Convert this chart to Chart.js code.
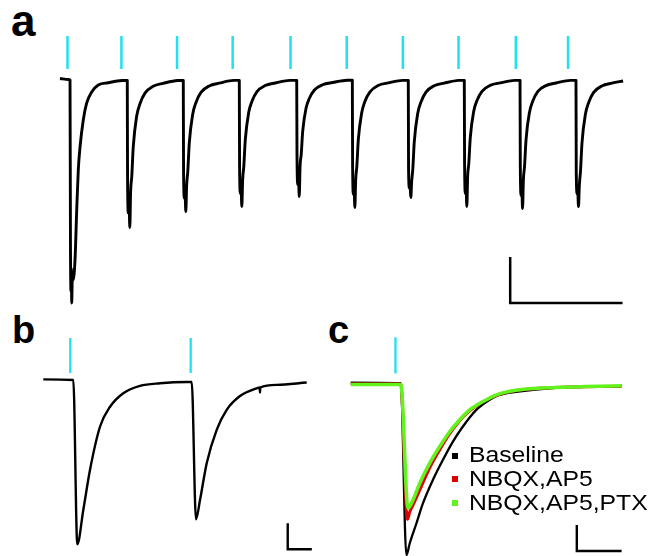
<!DOCTYPE html>
<html><head><meta charset="utf-8">
<script src="https://cdn.jsdelivr.net/npm/chart.js@4.4.1/dist/chart.umd.min.js"></script>
<style>
html,body{margin:0;padding:0;background:#fff;}
body{width:655px;height:556px;position:relative;overflow:hidden;font-family:"Liberation Sans",Arial,sans-serif;}
canvas{position:absolute;}
.lbl{position:absolute;font-weight:bold;line-height:1;color:#000;white-space:nowrap;}
.sq{position:absolute;width:6px;height:6px;}
.leg{position:absolute;left:469px;top:444px;font-size:21.5px;line-height:23.8px;transform:scaleX(1.15);transform-origin:0 0;white-space:nowrap;color:#000;}
</style></head><body>
<div class="lbl" style="left:11px;top:-1px;font-size:44px">a</div>
<div class="lbl" style="left:12px;top:311px;font-size:38px">b</div>
<div class="lbl" style="left:328px;top:311px;font-size:38px">c</div>
<canvas id="ca" width="570" height="280" style="left:58px;top:30px"></canvas>
<canvas id="cb" width="280" height="226" style="left:40px;top:330px"></canvas>
<canvas id="cc" width="285" height="226" style="left:345px;top:330px"></canvas>
<div class="sq" style="left:452px;top:453px;background:#000"></div>
<div class="sq" style="left:452px;top:476px;background:#dd0000"></div>
<div class="sq" style="left:452px;top:500px;background:#62f21c"></div>
<div class="leg">Baseline<br>NBQX,AP5<br>NBQX,AP5,PTX</div>
<script>
// ---------- Panel a: 10 Hz train (time in ms, current in pA) ----------
const aStim = [0, 96, 195, 294, 397, 497, 597, 696, 798, 891];
const aTime = [
 -13.4, 1.8, 4.5, 5.3, 6.3, 6.9, 7.5, 8.6, 9.8, 13.4, 16.4, 19.2, 22.3, 28.1, 34.2, 43.1, 54.8, 72.6, 97,
 106.4, 106.9, 108.4, 109.4, 110.9, 112.4, 114.4, 117.1, 123.1, 129.0, 137.9, 152.4, 170.4, 196.4,
 206.1, 206.6, 208.1, 209.1, 210.6, 212.1, 214.1, 216.8, 222.8, 228.7, 237.6, 252.1, 270.1, 296.1,
 305.8, 306.3, 307.8, 308.8, 310.3, 311.8, 313.8, 316.5, 322.5, 328.4, 337.3, 351.8, 369.8, 395.8,
 408, 408.5, 410, 411, 412.5, 414, 416, 418.7, 424.7, 430.6, 439.5, 454, 472, 498,
 507, 507.5, 509, 510, 511.5, 513, 515, 517.7, 523.7, 529.6, 538.5, 553, 571, 597,
 606.6, 607.1, 608.6, 609.6, 611.1, 612.6, 614.6, 617.3, 623.3, 629.2, 638.1, 652.6, 670.6, 696.6,
 706.3, 706.8, 708.3, 709.3, 710.8, 712.3, 714.3, 717, 723, 728.9, 737.8, 752.3, 770.3, 796.3,
 805.5, 806, 807.5, 808.5, 810, 811.5, 813.5, 816.2, 822.2, 828.1, 837, 851.5, 869.5, 895.5,
 905.1, 905.6, 907.1, 908.1, 909.6, 911.1, 913.1, 915.8, 921.8, 927.7, 936.6, 951.1, 969.1, 989
];
const aCurrent = [
 11, 0, -5, -1810, -2300, -2050, -2430, -2150, -2180, -1960, -1420, -985, -735, -440, -255, -135, -60, -35, -11,
 -10, -1054, -1450, -1265, -1609, -1212, -1054, -727, -400, -264, -148, -74, -42, -11,
 -10, -1000, -1290, -1200, -1435, -1150, -1000, -690, -380, -250, -140, -70, -40, -10,
 -10, -946, -1240, -1135, -1380, -1088, -946, -653, -359, -237, -132, -66, -38, -9,
 -9, -815, -1145, -980, -1272, -940, -815, -562, -310, -204, -114, -57, -33, -8,
 -8, -946, -1250, -1135, -1391, -1090, -946, -650, -362, -235, -134, -65, -37, -10,
 -10, -978, -1180, -1150, -1283, -1110, -978, -675, -372, -245, -137, -68, -39, -10,
 -9, -913, -1240, -1100, -1380, -1050, -913, -630, -347, -228, -128, -64, -37, -9,
 -9, -946, -1260, -1135, -1402, -1090, -946, -655, -360, -236, -131, -67, -38, -9,
 -9, -1000, -1240, -1200, -1380, -1150, -1000, -690, -380, -250, -140, -70, -40, -16
];
const aScaleBar = {ms: 200, pA: 500};

// ---------- Panel b: paired pulse (ms, pA) ----------
const bStim = [0, 50];
const bTime = [-11.2, 1.25, 2.91, 5.40, 8.18, 12.33, 16.51, 22.01, 28.95, 37.25, 48.34, 50.42,
 52.20, 53.87, 56.65, 60.80, 64.95, 70.48, 77.41, 78.66, 78.78, 78.9, 85.72, 98.18];
const bCurrent = [2, 0, -632, -500, -346, -180, -103, -51, -23, -13, -8, -8,
 -536, -462, -320, -192, -115, -62, -32, -29, -48, -29, -19, -10];
const bScaleBar = {ms: 10, pA: 100};

// ---------- Panel c: pharmacology (ms, pA) ----------
const cStim = [0];
const cBaselineTime = [-10, 1.18, 2.44, 3.18, 4.67, 6.13, 8.35, 10.58, 12.8, 15.02, 18.0, 20.95, 23.18, 26.89, 35.77, 50.57];
const cBaselineCur  = [4, 2, -660, -615, -538, -461, -371, -294, -224, -166, -102, -63, -44, -32, -16, -10];
const cNbqxTime = [-10, 1.18, 2.67, 3.18, 3.91, 5.4, 7.62, 9.84, 12.07, 14.29, 16.51, 19.47, 22.44, 26.89, 35.77, 50.57];
const cNbqxCur  = [-2, -2, -522, -494, -467, -410, -325, -256, -194, -144, -106, -71, -46, -27, -15, -10];
const cPtxTime = [-10, 1.18, 2.8, 3.91, 5.4, 7.62, 9.84, 12.07, 14.29, 16.51, 19.47, 22.44, 26.89, 35.77, 50.57];
const cPtxCur  = [-4, -4, -480, -448, -384, -307, -243, -186, -140, -102, -70, -44, -26, -15, -8];
const cScaleBar = {ms: 10, pA: 100};

// ---------- helpers ----------
const CYAN = '#1fe1f0', RED = '#dd0000', GREEN = '#62f21c';
const pts = (xs, ys) => xs.map((x, i) => ({x, y: ys[i]}));
function ticks(times, y0, y1) {
  const out = [];
  times.forEach(t => { out.push({x: t, y: y0}, {x: t, y: y1}, {x: t, y: null}); });
  return out;
}
function bar(x0, yTop, sb) {
  return [{x: x0, y: yTop}, {x: x0, y: yTop - sb.pA}, {x: x0 + sb.ms, y: yTop - sb.pA}];
}
function trace(data, color, width, order) {
  return {data, borderColor: color, borderWidth: width, pointRadius: 0, fill: false,
          cubicInterpolationMode: 'monotone', order, borderJoinStyle: 'round'};
}
function straight(data, color, width, order) {
  return {data, borderColor: color, borderWidth: width, pointRadius: 0, fill: false,
          tension: 0, spanGaps: false, order, borderCapStyle: 'butt', borderJoinStyle: 'miter'};
}
function makeChart(id, datasets, xr, yr) {
  return new Chart(document.getElementById(id), {
    type: 'line',
    data: {datasets},
    options: {
      responsive: false, animation: false, events: [],
      layout: {padding: 0},
      plugins: {legend: {display: false}, tooltip: {enabled: false}},
      scales: {
        x: {type: 'linear', display: false, min: xr[0], max: xr[1]},
        y: {type: 'linear', display: false, min: yr[0], max: yr[1]}
      }
    }
  });
}

makeChart('ca', [
  straight(ticks(aStim, 114, 473), CYAN, 2.5, 0),
  trace(pts(aTime, aCurrent), '#000', 2.9, 1),
  straight(bar(788, -1929, aScaleBar), '#000', 2.5, 0)
], [-16.9, 997.7], [-2505, 538]);

makeChart('cb', [
  straight(ticks(bStim, 27, 161), CYAN, 2.3, 0),
  trace(pts(bTime, bCurrent), '#000', 2.4, 1),
  straight(bar(90.3, -551, bScaleBar), '#000', 2.4, 0)
], [-12.58, 103.7], [-677, 192]);

makeChart('cc', [
  straight(ticks(cStim, 39, 178), CYAN, 2.3, 0),
  trace(pts(cPtxTime, cPtxCur), GREEN, 3.5, 1),
  trace(pts(cNbqxTime, cNbqxCur), RED, 3, 2),
  trace(pts(cBaselineTime, cBaselineCur), '#000', 2.3, 3),
  straight(bar(40.5, -544, cScaleBar), '#000', 2.4, 0)
], [-11.27, 52.38], [-663, 206]);
</script>
</body></html>
